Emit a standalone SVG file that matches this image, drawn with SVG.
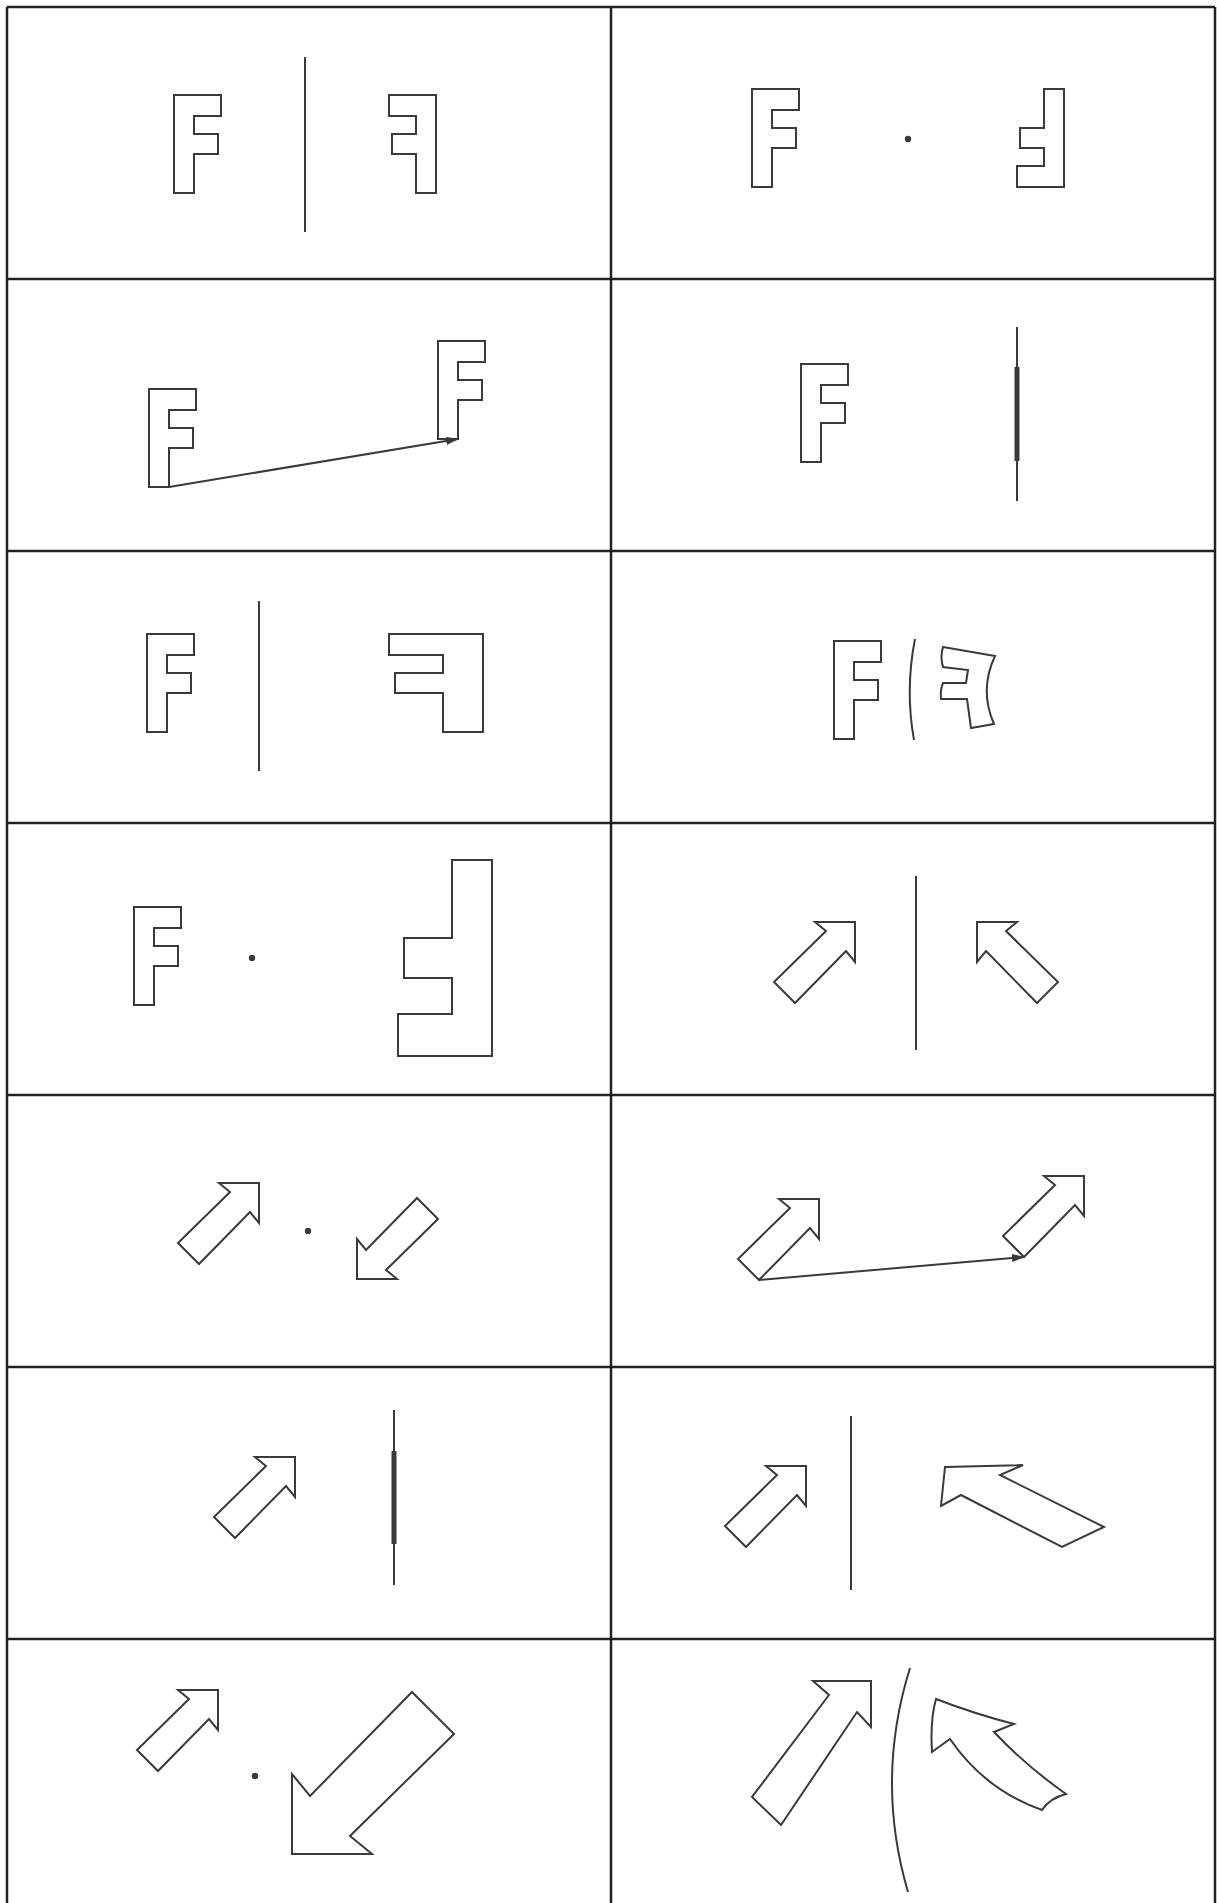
<svg xmlns="http://www.w3.org/2000/svg" xmlns:xlink="http://www.w3.org/1999/xlink" width="1217" height="1903" viewBox="0 0 1217 1903">
<style>
.g{fill:none;stroke:#222;stroke-width:2.5}
.s{fill:#fff;stroke:#3a3a3a;stroke-width:2;stroke-linejoin:miter}
.l{fill:none;stroke:#3a3a3a;stroke-width:2}
.t{fill:none;stroke:#3a3a3a;stroke-width:5}
.d{fill:#3a3a3a}
</style>
<defs>
<path id="F" d="M0,0 h47 v21 h-27 v18 h24 v20 h-24 v39 h-20 z"/>
<path id="A" d="M0,0 L0,40 L-9,29 L-60,81 L-81,60 L-29,9 L-40,0 Z"/>
<marker id="ah" markerUnits="userSpaceOnUse" markerWidth="13" markerHeight="8" refX="12" refY="4" orient="auto">
<path d="M0,0 L13,4 L0,8 z" fill="#3a3a3a"/>
</marker>
</defs>
<rect width="1217" height="1903" fill="#fff"/>
<g id="grid">
<line class="g" x1="7" y1="7" x2="1215" y2="7"/>
<line class="g" x1="7" y1="279" x2="1215" y2="279"/>
<line class="g" x1="7" y1="551" x2="1215" y2="551"/>
<line class="g" x1="7" y1="823" x2="1215" y2="823"/>
<line class="g" x1="7" y1="1095" x2="1215" y2="1095"/>
<line class="g" x1="7" y1="1367" x2="1215" y2="1367"/>
<line class="g" x1="7" y1="1639" x2="1215" y2="1639"/>
<line class="g" x1="7" y1="7" x2="7" y2="1903"/>
<line class="g" x1="611" y1="7" x2="611" y2="1903"/>
<line class="g" x1="1215" y1="7" x2="1215" y2="1903"/>
</g>
<g id="cell1">
<use href="#F" class="s" transform="translate(174,95)"/>
<line class="l" x1="305" y1="57" x2="305" y2="232"/>
<use href="#F" class="s" transform="translate(436,95) scale(-1,1)"/>
</g>
<g id="cell2">
<use href="#F" class="s" transform="translate(752,89)"/>
<circle class="d" cx="908" cy="139" r="3.2"/>
<use href="#F" class="s" transform="translate(1064,187) rotate(180)"/>
</g>
<g id="cell3">
<use href="#F" class="s" transform="translate(149,389)"/>
<use href="#F" class="s" transform="translate(438,341)"/>
</g>
<g id="cell4">
<use href="#F" class="s" transform="translate(801,364)"/>
<line class="l" x1="1017" y1="327" x2="1017" y2="501"/>
<line class="t" x1="1017" y1="367" x2="1017" y2="461"/>
</g>
<g id="cell5">
<use href="#F" class="s" transform="translate(147,634)"/>
<line class="l" x1="259" y1="601" x2="259" y2="771"/>
<path class="s" d="M483,634 L389,634 L389,655 L443,655 L443,673 L395,673 L395,693 L443,693 L443,732 L483,732 Z"/>
</g>
<g id="cell6">
<use href="#F" class="s" transform="translate(834,641)"/>
<path class="l" d="M915,639 Q905,690 914,740"/>
<path class="s" d="M943,647 L995,656 Q979,690 994,724 L971,728 L967,699 L941,699 Q940,690 943,683 L966,683 L968,670 L943,667 Q940,657 943,647 Z"/>
</g>
<g id="cell7">
<use href="#F" class="s" transform="translate(134,907)"/>
<circle class="d" cx="252" cy="958" r="3.2"/>
<path class="s" d="M492,1056 L398,1056 L398,1014 L452,1014 L452,978 L404,978 L404,938 L452,938 L452,860 L492,860 Z"/>
</g>
<g id="cell8">
<use href="#A" class="s" transform="translate(855,922)"/>
<line class="l" x1="916" y1="876" x2="916" y2="1050"/>
<use href="#A" class="s" transform="translate(977,922) scale(-1,1)"/>
</g>
<g id="cell9">
<use href="#A" class="s" transform="translate(259,1183)"/>
<circle class="d" cx="308" cy="1231" r="3.2"/>
<use href="#A" class="s" transform="translate(357,1279) rotate(180)"/>
</g>
<g id="cell10">
<use href="#A" class="s" transform="translate(819,1199)"/>
<use href="#A" class="s" transform="translate(1084,1176)"/>
</g>
<g id="cell11">
<use href="#A" class="s" transform="translate(295,1457)"/>
<line class="l" x1="394" y1="1410" x2="394" y2="1585"/>
<line class="t" x1="394" y1="1451" x2="394" y2="1544"/>
</g>
<g id="cell12">
<use href="#A" class="s" transform="translate(806,1466)"/>
<line class="l" x1="851" y1="1416" x2="851" y2="1590"/>
<path class="s" d="M945,1467 L1023,1465 L1000,1475 L1104,1527 L1062,1547 L961,1495 L941,1506 Z"/>
</g>
<g id="cell13">
<use href="#A" class="s" transform="translate(218,1690)"/>
<circle class="d" cx="255" cy="1776" r="3.2"/>
<path class="s" d="M292,1854 L292,1774 L310,1796 L412,1692 L454,1734 L350,1836 L372,1854 Z"/>
</g>
<g id="cell14">
<path class="s" d="M871,1681 L871,1727 L857,1712 L781,1825 L752,1797 L829,1695 L813,1681 Z"/>
<path class="l" d="M910,1668 Q875,1780 908,1892"/>
<path class="s" d="M936,1699 Q975,1714 1014,1724 L994,1732 Q1025,1765 1066,1794 Q1050,1798 1042,1810 Q985,1790 950,1739 L932,1752 Q930,1720 936,1699 Z"/>
</g>
<g id="connectors">
<line class="l" x1="169" y1="487" x2="458" y2="439" marker-end="url(#ah)"/>
<line class="l" x1="759" y1="1280" x2="1024" y2="1257" marker-end="url(#ah)"/>
</g>
</svg>
